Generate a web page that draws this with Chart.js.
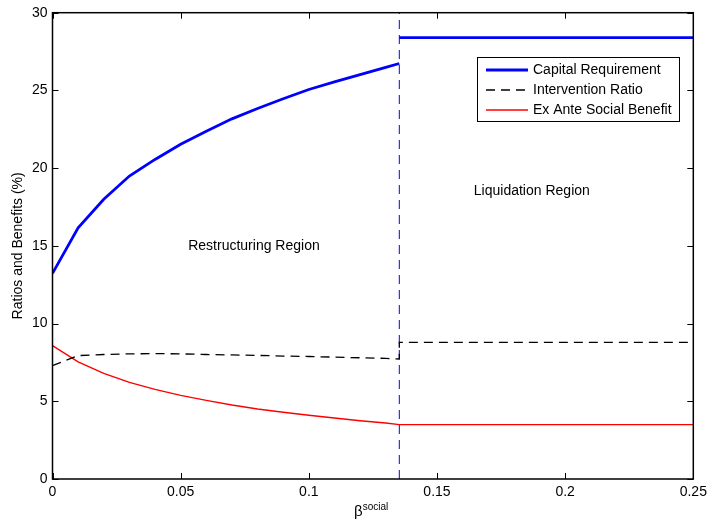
<!DOCTYPE html>
<html>
<head>
<meta charset="utf-8">
<script src="https://cdn.jsdelivr.net/npm/chart.js@4.4.1/dist/chart.umd.min.js"></script>
<style>
html,body{margin:0;padding:0;background:#fff;}
#wrap{width:707px;height:525px;}
</style>
</head>
<body>
<div id="wrap"><canvas id="c" width="707" height="525"></canvas></div>
<script>
// ---- data ----
const betaRestructuring = [0, 0.01, 0.02, 0.03, 0.04, 0.05, 0.06, 0.07, 0.08, 0.09, 0.10, 0.11, 0.12, 0.13, 0.1353];
const capitalRestructuring = [13.23, 16.16, 18.0, 19.49, 20.56, 21.54, 22.38, 23.17, 23.84, 24.46, 25.06, 25.55, 26.02, 26.48, 26.73];
const interventionRestructuring = [7.29, 7.94, 8.01, 8.05, 8.07, 8.05, 8.01, 7.98, 7.95, 7.91, 7.88, 7.84, 7.8, 7.76, 7.72];
const benefitRestructuring = [8.58, 7.54, 6.8, 6.22, 5.77, 5.38, 5.06, 4.76, 4.50, 4.29, 4.10, 3.92, 3.75, 3.6, 3.5];
const betaLiquidation = [0.1353, 0.25];
const capitalLiquidation = [28.4, 28.4];
const interventionLiquidation = [8.79, 8.79];
const benefitLiquidation = [3.5, 3.5];
const thresholdBeta = 0.1353;
const thresholdRange = [0, 30];
const seriesNames = ['Capital Requirement', 'Intervention Ratio', 'Ex Ante Social Benefit'];
const xTickLabels = ['0', '0.05', '0.1', '0.15', '0.2', '0.25'];
const xTickValues = [0, 0.05, 0.1, 0.15, 0.2, 0.25];
const yTickValues = [0, 5, 10, 15, 20, 25, 30];
const regionLabels = ['Restructuring Region', 'Liquidation Region'];
const regionPositions = [[0.0786, 15.0], [0.187, 18.5]];

function pts(xs, ys) { return xs.map((x, i) => ({x: x, y: ys[i]})); }
const gap = {x: thresholdBeta, y: null};

const capitalData = pts(betaRestructuring, capitalRestructuring).concat([gap], pts(betaLiquidation, capitalLiquidation));
const interventionData = pts(betaRestructuring, interventionRestructuring).concat(pts(betaLiquidation, interventionLiquidation));
const benefitData = pts(betaRestructuring, benefitRestructuring).concat(pts(betaLiquidation, benefitLiquidation));
const thresholdData = thresholdRange.map(v => ({x: thresholdBeta, y: v}));

const FONT = '"Liberation Sans", Arial, Helvetica, sans-serif';

const matlabPlugin = {
  id: 'matlab',
  afterDraw(chart) {
    const ctx = chart.ctx;
    const a = chart.chartArea;
    const xs = chart.scales.x, ys = chart.scales.y;
    ctx.save();
    // box
    ctx.strokeStyle = '#000';
    ctx.lineWidth = 1.5;
    ctx.strokeRect(a.left, a.top, a.right - a.left, a.bottom - a.top);
    // inward ticks
    ctx.lineWidth = 1;
    const tl = 6;
    ctx.beginPath();
    xTickValues.forEach(v => {
      const px = Math.round(xs.getPixelForValue(v)) + 0.5;
      ctx.moveTo(px, a.bottom); ctx.lineTo(px, a.bottom - tl);
      ctx.moveTo(px, a.top); ctx.lineTo(px, a.top + tl);
    });
    yTickValues.forEach(v => {
      const py = Math.round(ys.getPixelForValue(v)) + 0.5;
      ctx.moveTo(a.left, py); ctx.lineTo(a.left + tl, py);
      ctx.moveTo(a.right, py); ctx.lineTo(a.right - tl, py);
    });
    ctx.stroke();

    ctx.fillStyle = '#000';
    // region annotations
    ctx.font = '14px ' + FONT;
    ctx.textAlign = 'center';
    ctx.textBaseline = 'middle';
    regionLabels.forEach((t, i) => {
      ctx.fillText(t, xs.getPixelForValue(regionPositions[i][0]), ys.getPixelForValue(regionPositions[i][1]));
    });

    // y title
    ctx.save();
    ctx.translate(18, (a.top + a.bottom) / 2);
    ctx.rotate(-Math.PI / 2);
    ctx.font = '14px ' + FONT;
    ctx.textAlign = 'center';
    ctx.textBaseline = 'middle';
    ctx.fillText('Ratios and Benefits (%)', 0, 0);
    ctx.restore();

    // x title: beta with superscript
    ctx.font = '15px ' + FONT;
    ctx.textAlign = 'left';
    ctx.textBaseline = 'alphabetic';
    const bx = 354, by = 516;
    ctx.fillText('\u03B2', bx, by);
    const bw = ctx.measureText('\u03B2').width;
    ctx.font = '10px ' + FONT;
    ctx.fillText('social', bx + bw, by - 6);

    // legend
    const lx = 477.5, ly = 57.5, lw = 202, lh = 64;
    ctx.fillStyle = '#fff';
    ctx.fillRect(lx, ly, lw, lh);
    ctx.strokeStyle = '#000';
    ctx.lineWidth = 1;
    ctx.setLineDash([]);
    ctx.strokeRect(lx, ly, lw, lh);
    const dsets = chart.data.datasets;
    for (let i = 0; i < 3; i++) {
      const ds = dsets[i];
      const yy = 70 + i * 20;
      ctx.strokeStyle = ds.borderColor;
      ctx.lineWidth = ds.borderWidth;
      ctx.setLineDash(ds.borderDash || []);
      ctx.beginPath();
      ctx.moveTo(486, yy); ctx.lineTo(528, yy);
      ctx.stroke();
      ctx.setLineDash([]);
      ctx.fillStyle = '#000';
      ctx.font = '14px ' + FONT;
      ctx.textBaseline = 'middle';
      ctx.fillText(ds.label, 533, yy);
    }
    ctx.restore();
  }
};

new Chart(document.getElementById('c'), {
  type: 'scatter',
  data: {
    datasets: [
      {label: seriesNames[0], data: capitalData, showLine: true, borderColor: '#0000ff', borderWidth: 2.8, pointRadius: 0, spanGaps: false, tension: 0},
      {label: seriesNames[1], data: interventionData, showLine: true, borderColor: '#000000', borderWidth: 1.3, borderDash: [9, 6], pointRadius: 0, tension: 0},
      {label: seriesNames[2], data: benefitData, showLine: true, borderColor: '#ff0000', borderWidth: 1.4, pointRadius: 0, tension: 0},
      {label: 'threshold', data: thresholdData, showLine: true, borderColor: '#0000ff', borderWidth: 1, borderDash: [9, 6], pointRadius: 0, tension: 0}
    ]
  },
  options: {
    responsive: false,
    animation: false,
    events: [],
    layout: {padding: {left: 0, top: 12.7, right: 13.7, bottom: 0}},
    plugins: {legend: {display: false}, tooltip: {enabled: false}, title: {display: false}},
    scales: {
      x: {
        type: 'linear', min: 0, max: 0.25,
        afterBuildTicks(scale) { scale.ticks = xTickValues.map(v => ({value: v})); },
        afterFit(scale) { scale.height = 46; scale.paddingLeft = 0; scale.paddingRight = 0; },
        grid: {display: false, drawTicks: false},
        border: {display: false},
        ticks: {
          color: '#000', font: {family: FONT, size: 14}, padding: 5, maxRotation: 0,
          callback: (v, i) => xTickLabels[i]
        }
      },
      y: {
        type: 'linear', min: 0, max: 30,
        afterBuildTicks(scale) { scale.ticks = yTickValues.map(v => ({value: v})); },
        afterFit(scale) { scale.width = 52.5; scale.paddingTop = 0; scale.paddingBottom = 0; },
        grid: {display: false, drawTicks: false},
        border: {display: false},
        ticks: {color: '#000', font: {family: FONT, size: 14}, padding: 5}
      }
    }
  },
  plugins: [matlabPlugin]
});
</script>
</body>
</html>
